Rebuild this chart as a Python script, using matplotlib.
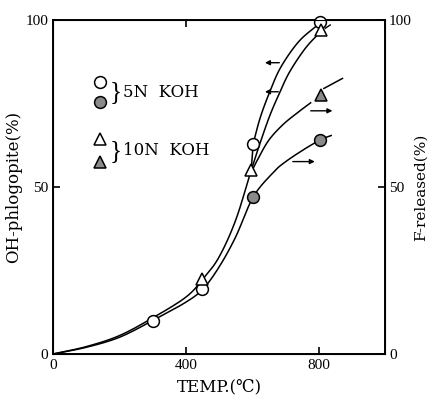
import numpy as np
import matplotlib
matplotlib.use('Agg')
import matplotlib.pyplot as plt

plt.rcParams['font.family'] = ['Liberation Serif', 'DejaVu Serif']

# measured points
temp_5n = [300, 450, 603, 803]
oh_5n = [10, 19.5, 63, 99.5]
f_5n_x = [603, 803]
f_5n = [47, 64]
temp_10n = [450, 597, 806]
oh_10n = [22.5, 55, 97]
f_10n_x = [806]
f_10n = [77.5]

# hand drawn curves
lower_x = [0, 100, 200, 300, 400, 452, 500, 550, 603, 663, 701, 760, 803]
lower_y = [0, 2, 5, 10, 15.5, 19.5, 26, 35, 47, 54.3, 57.6, 61.5, 64]
upper_x = [0, 100, 200, 300, 400, 452, 500, 550, 597]
upper_y = [0, 2.2, 5.5, 10.8, 17, 22.5, 29, 40, 55]
link_x = [597, 603]
link_y = [55, 63]
br_circ_x = [603, 625, 655, 687, 740, 797]
br_circ_y = [63, 71, 79, 86, 93.5, 98.5]
br_tri_x = [597, 625, 654, 684, 713, 760, 806]
br_tri_y = [55, 63.5, 71.6, 78.5, 84.5, 91.5, 96.5]
br_ftri_x = [600, 618, 650, 693, 740, 776]
br_ftri_y = [55, 58.5, 64, 68.7, 72.5, 75.2]


def smooth(xs, ys, n=20):
    # Catmull-Rom spline through the read points
    P = np.c_[np.asarray(xs, float), np.asarray(ys, float)]
    if len(P) < 3:
        return P[:, 0], P[:, 1]
    P = np.vstack([P[0] * 2 - P[1], P, P[-1] * 2 - P[-2]])
    out = []
    s = np.linspace(0, 1, n)[:, None]
    for i in range(1, len(P) - 2):
        p0, p1, p2, p3 = P[i - 1], P[i], P[i + 1], P[i + 2]
        pt = 0.5 * ((2 * p1) + (-p0 + p2) * s + (2 * p0 - 5 * p1 + 4 * p2 - p3) * s ** 2
                    + (-p0 + 3 * p1 - 3 * p2 + p3) * s ** 3)
        out.append(pt)
    out = np.vstack(out)
    return out[:, 0], out[:, 1]


fig = plt.figure(figsize=(4.32, 3.99), dpi=100)
ax = fig.add_axes([0.1227, 0.1128, 0.7685, 0.8372])

for xs, ys in [(lower_x, lower_y), (upper_x, upper_y), (link_x, link_y),
               (br_circ_x, br_circ_y), (br_tri_x, br_tri_y), (br_ftri_x, br_ftri_y)]:
    sx, sy = smooth(xs, ys)
    ax.plot(sx, sy, color='k', lw=1.1, zorder=2)

# leader lines
ax.plot([816, 872], [79.5, 82.5], color='k', lw=1.1)
ax.plot([815, 838], [64.6, 65.4], color='k', lw=1.1)
ax.plot([820, 835], [97.5, 98.5], color='k', lw=1.0)

mk = dict(markersize=8.5, markeredgecolor='k', markeredgewidth=1.1, linestyle='none', zorder=3)
ax.plot(temp_5n, oh_5n, 'o', markerfacecolor='white', clip_on=False, **mk)
ax.plot(f_5n_x, f_5n, 'o', markerfacecolor='#8a8a8a', **mk)
ax.plot(temp_10n, oh_10n, '^', markerfacecolor='white', **mk)
ax.plot(f_10n_x, f_10n, '^', markerfacecolor='#8a8a8a', **mk)

# axis direction arrows
arr = dict(arrowstyle='-|>', color='k', lw=1.0, mutation_scale=7)
ax.annotate('', xy=(630, 87.2), xytext=(690, 87.2), arrowprops=arr)
ax.annotate('', xy=(630, 78.5), xytext=(687, 78.5), arrowprops=arr)
ax.annotate('', xy=(850, 72.8), xytext=(768, 72.8), arrowprops=arr)
ax.annotate('', xy=(797, 57.6), xytext=(714, 57.6), arrowprops=arr)

# legend drawn by hand
ax.plot([142], [81.4], 'o', markerfacecolor='white', **mk)
ax.plot([142], [75.4], 'o', markerfacecolor='#8a8a8a', **mk)
ax.plot([142], [64.4], '^', markerfacecolor='white', **mk)
ax.plot([142], [57.5], '^', markerfacecolor='#8a8a8a', **mk)
ax.text(190, 78.4, '}', fontsize=18, va='center', ha='center')
ax.text(210, 78.4, '5N  KOH', fontsize=12, va='center', family='DejaVu Serif')
ax.text(190, 60.8, '}', fontsize=18, va='center', ha='center')
ax.text(210, 60.8, '10N  KOH', fontsize=12, va='center', family='DejaVu Serif')

ax.set_xlim(0, 1000)
ax.set_ylim(0, 100)
ax.set_xticks([0, 400, 800])
ax.set_yticks([0, 50, 100])
ax.tick_params(direction='in', length=5, width=1.2, labelsize=11, top=True)
ax.set_xlabel('TEMP.(℃)', fontsize=12, family='DejaVu Serif', labelpad=5)
ax.set_ylabel('OH-phlogopite(%)', fontsize=12, family='DejaVu Serif', labelpad=2)
for s in ax.spines.values():
    s.set_linewidth(1.4)

ax2 = ax.twinx()
ax2.set_ylim(0, 100)
ax2.set_yticks([0, 50, 100])
ax2.tick_params(direction='in', length=5, width=1.2, labelsize=11, pad=3)
ax2.set_ylabel('F-released(%)', fontsize=11, family='DejaVu Serif', rotation=90, labelpad=1)

fig.savefig('out.png', dpi=100)
